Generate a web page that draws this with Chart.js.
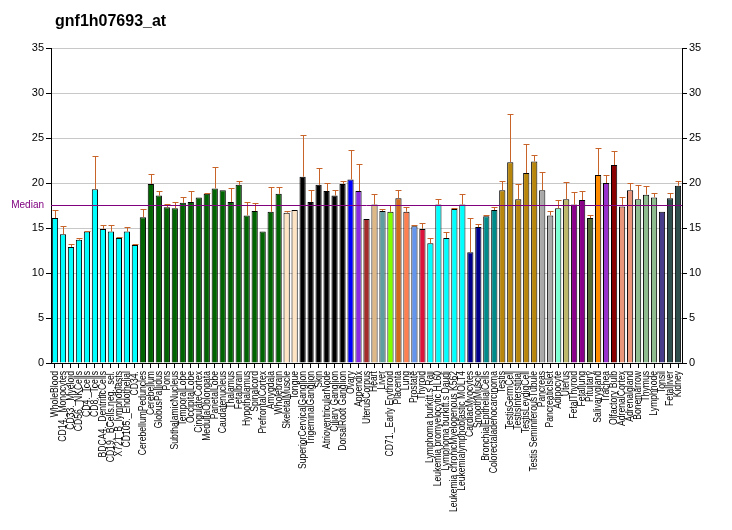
<!DOCTYPE html>
<html>
<head>
<meta charset="utf-8">
<script src="https://cdn.jsdelivr.net/npm/chart.js@4/dist/chart.umd.min.js"></script>
<style>
  html, body { margin: 0; padding: 0; background: #fff; }
</style>
</head>
<body>
<canvas id="chart" width="732" height="530"></canvas>
<script>
// tissue names along the x axis
const categories = [
  'WholeBlood', 'CD14._Monocytes', 'CD33._Myeloid', 'CD56._NKCells', 'CD4._Tcells',
  'CD8._Tcells', 'BDCA4._DentriticCells', 'CD19._BCells.neg._sel.', 'X721_B_lymphoblasts',
  'CD105._Endothelial', 'CD34.', 'CerebellumPeduncles', 'Cerebellum', 'GlobusPallidus',
  'Pons', 'SubthalamicNucleus', 'TemporalLobe', 'OccipitalLobe', 'CingulateCortex',
  'MedullaOblongata', 'ParietalLobe', 'Caudatenucleus', 'Thalamus', 'Fetalbrain',
  'Hypothalamus', 'Spinalcord', 'PrefrontalCortex', 'Amygdala', 'Wholebrain',
  'SkeletalMuscle', 'Tongue', 'SuperiorCervicalGanglion', 'TrigeminalGanglion', 'Skin',
  'AtrioventricularNode', 'Ciliary Ganglion', 'DorsalRoot Ganglion', 'Ovary', 'Appendix',
  'UterusCorpus', 'Heart', 'Liver', 'CD71._Early Erythroid', 'Placenta', 'Lung',
  'Prostate', 'Thyroid', 'Lymphoma burkitt.s Raji', 'Leukemia promyelocytic HL60',
  'Lymphoma burkitt.s Daudi', 'Leukemia chronicMyelogenous K562',
  'Leukemialymphoblastic MOLT4', 'CardiacMyocytes', 'SmoothMuscle',
  'BronchialEpithelialCells', 'Colorectaladenocarcinoma', 'Testis', 'TestisGermCell',
  'TestisInterstitial', 'TestisLeydigCell', 'Testis SeminiferousTubule', 'Pancreas',
  'PancreaticIslet', 'Adipocyte', 'Uterus', 'FetalThyroid', 'Fetallung', 'Pituitary',
  'Salivarygland', 'Trachea', 'Olfactory Bulb', 'AdrenalCortex', 'Adrenalgland',
  'Bonemarrow', 'Thymus', 'Lymphnode', 'Tonsil', 'Fetalliver', 'Kidney'
];

// bar heights
const values = [
  16.1, 14.3, 12.9, 13.7, 14.6, 19.3, 14.9, 14.6, 13.9, 14.6,
  13.1, 16.2, 19.9, 18.6, 17.3, 17.2, 17.8, 17.9, 18.4, 18.8,
  19.4, 19.2, 17.9, 19.8, 16.4, 16.9, 14.6, 16.8, 18.8, 16.7,
  17.0, 20.7, 17.9, 19.8, 19.1, 18.6, 19.9, 20.4, 19.1, 16.0,
  17.6, 16.9, 16.8, 18.3, 16.8, 15.2, 14.9, 13.3, 17.6, 13.9,
  17.1, 17.6, 12.3, 15.1, 16.3, 17.0, 19.2, 22.3, 18.2, 21.1,
  22.4, 19.2, 16.4, 17.2, 18.2, 17.6, 18.1, 16.1, 20.9, 20.0,
  22.0, 17.4, 19.2, 18.2, 18.7, 18.4, 16.8, 18.3, 19.7
];

// upper end of each error bar (null = none drawn)
const errorTops = [
  17.0, 15.2, 13.2, 13.9, 14.7, 23.0, 15.3, 15.3, 14.0, 15.1,
  13.2, 17.1, 21.0, 19.1, 17.7, 17.9, 18.4, 19.1, null, 18.9,
  21.8, null, 19.4, 20.2, 17.9, 17.8, null, 19.6, 19.6, 16.9,
  null, 25.3, 19.2, 21.7, 20.0, 19.2, 20.2, 23.7, 22.1, null,
  18.8, 17.1, 17.6, 19.2, 17.3, 15.3, 15.6, 13.9, 18.2, 14.6,
  17.2, 18.8, 16.1, 15.4, 16.4, 17.3, 20.2, 27.7, 19.9, 24.3,
  23.1, 21.2, 16.9, 18.1, 20.1, 19.0, 19.1, 16.4, 23.9, 20.9,
  23.6, 18.4, 20.0, 19.8, 19.7, 18.9, null, 18.9, 20.2
];

const barColors = [
  '#00FFFF', '#00FFFF', '#00FFFF', '#00FFFF', '#00FFFF', '#00FFFF', '#00FFFF', '#00FFFF', '#00FFFF', '#00FFFF',
  '#00FFFF', '#006400', '#006400', '#006400', '#006400', '#006400', '#006400', '#006400', '#006400', '#006400',
  '#006400', '#006400', '#006400', '#006400', '#006400', '#006400', '#006400', '#006400', '#006400', '#FFE4C4',
  '#FFE4C4', '#000000', '#000000', '#000000', '#000000', '#000000', '#000000', '#0000FF', '#8A2BE2', '#A52A2A',
  '#DEB887', '#5F9EA0', '#7FFF00', '#D2691E', '#FF7F50', '#6495ED', '#DC143C', '#00FFFF', '#00FFFF', '#00FFFF',
  '#00FFFF', '#00FFFF', '#00008B', '#00008B', '#008B8B', '#008B8B', '#B8860B', '#B8860B', '#B8860B', '#B8860B',
  '#B8860B', '#A9A9A9', '#A9A9A9', '#7FFFD4', '#BDB76B', '#8B008B', '#8B008B', '#556B2F', '#FF8C00', '#9932CC',
  '#8B0000', '#E9967A', '#E9967A', '#8FBC8F', '#8FBC8F', '#8FBC8F', '#483D8B', '#2F4F4F', '#2F4F4F'
];

const yTicks = [0, 5, 10, 15, 20, 25, 30, 35];
const median = 17.56;
const title = 'gnf1h07693_at';

const extras = {
  id: 'extras',
  afterDatasetsDraw(chart) {
    const ctx = chart.ctx;
    const x = chart.scales.x;
    const y = chart.scales.y;
    const area = chart.chartArea;
    const meta = chart.getDatasetMeta(0);

    // error bars, upward only
    ctx.save();
    ctx.strokeStyle = '#C8642A';
    ctx.lineWidth = 1;
    meta.data.forEach((bar, i) => {
      if (errorTops[i] == null) return;
      const bx = Math.round(bar.x) + 0.5;
      const yTop = Math.round(y.getPixelForValue(errorTops[i])) + 0.5;
      const yBar = y.getPixelForValue(values[i]);
      ctx.beginPath();
      ctx.moveTo(bx, yBar);
      ctx.lineTo(bx, yTop);
      ctx.moveTo(bx - 3, yTop);
      ctx.lineTo(bx + 3, yTop);
      ctx.stroke();
    });

    // median line
    const ym = Math.round(y.getPixelForValue(median)) + 0.5;
    ctx.strokeStyle = '#800080';
    ctx.beginPath();
    ctx.moveTo(area.left, ym);
    ctx.lineTo(area.right, ym);
    ctx.stroke();
    ctx.fillStyle = '#800080';
    ctx.font = '10px "Liberation Sans", Arial, sans-serif';
    ctx.textAlign = 'right';
    ctx.textBaseline = 'middle';
    ctx.fillText('Median', area.left - 7, ym);

    // category labels, vertical and a bit condensed
    ctx.fillStyle = '#000';
    ctx.font = '10px "Liberation Sans", Arial, sans-serif';
    ctx.textAlign = 'right';
    ctx.textBaseline = 'middle';
    categories.forEach((name, i) => {
      ctx.save();
      ctx.translate(Math.round(x.getPixelForValue(i)) + 0.5, area.bottom + 8);
      ctx.rotate(-Math.PI / 2);
      ctx.scale(0.86, 1);
      ctx.fillText(name, 0, 0);
      ctx.restore();
    });

    // title
    ctx.fillStyle = '#000';
    ctx.font = 'bold 16px "Liberation Sans", Arial, sans-serif';
    ctx.textAlign = 'left';
    ctx.textBaseline = 'middle';
    ctx.fillText(title, 55, 22);
    ctx.restore();
  }
};

const axisFont = { family: '"Liberation Sans", Arial, sans-serif', size: 11 };

new Chart(document.getElementById('chart'), {
  type: 'bar',
  data: {
    labels: categories,
    datasets: [{
      data: values,
      backgroundColor: barColors,
      borderColor: '#000',
      borderWidth: 1,
      barPercentage: 0.78,
      categoryPercentage: 1.0
    }]
  },
  options: {
    responsive: false,
    devicePixelRatio: 1,
    animation: false,
    layout: { padding: { top: 48, left: 0, right: 0, bottom: 0 } },
    plugins: { legend: { display: false }, tooltip: { enabled: false }, title: { display: false } },
    scales: {
      x: {
        offset: true,
        grid: { display: true, drawOnChartArea: false, drawTicks: true, tickLength: 5, color: '#000', offset: false },
        border: { color: '#000' },
        ticks: { display: false, autoSkip: false },
        afterFit: s => { s.height = 167; }
      },
      y: {
        position: 'left',
        min: 0, max: 35,
        afterBuildTicks: s => { s.ticks = yTicks.map(v => ({ value: v })); },
        grid: { color: '#C8C8C8', tickColor: '#000', tickLength: 5 },
        border: { color: '#000' },
        ticks: { color: '#000', font: axisFont, padding: 2 },
        afterFit: s => { s.width = 51; }
      },
      y2: {
        position: 'right',
        min: 0, max: 35,
        afterBuildTicks: s => { s.ticks = yTicks.map(v => ({ value: v })); },
        grid: { drawOnChartArea: false, tickColor: '#000', tickLength: 5 },
        border: { color: '#000' },
        ticks: { color: '#000', font: axisFont, padding: 2 },
        afterFit: s => { s.width = 50; }
      }
    }
  },
  plugins: [extras]
});
</script>
</body>
</html>
